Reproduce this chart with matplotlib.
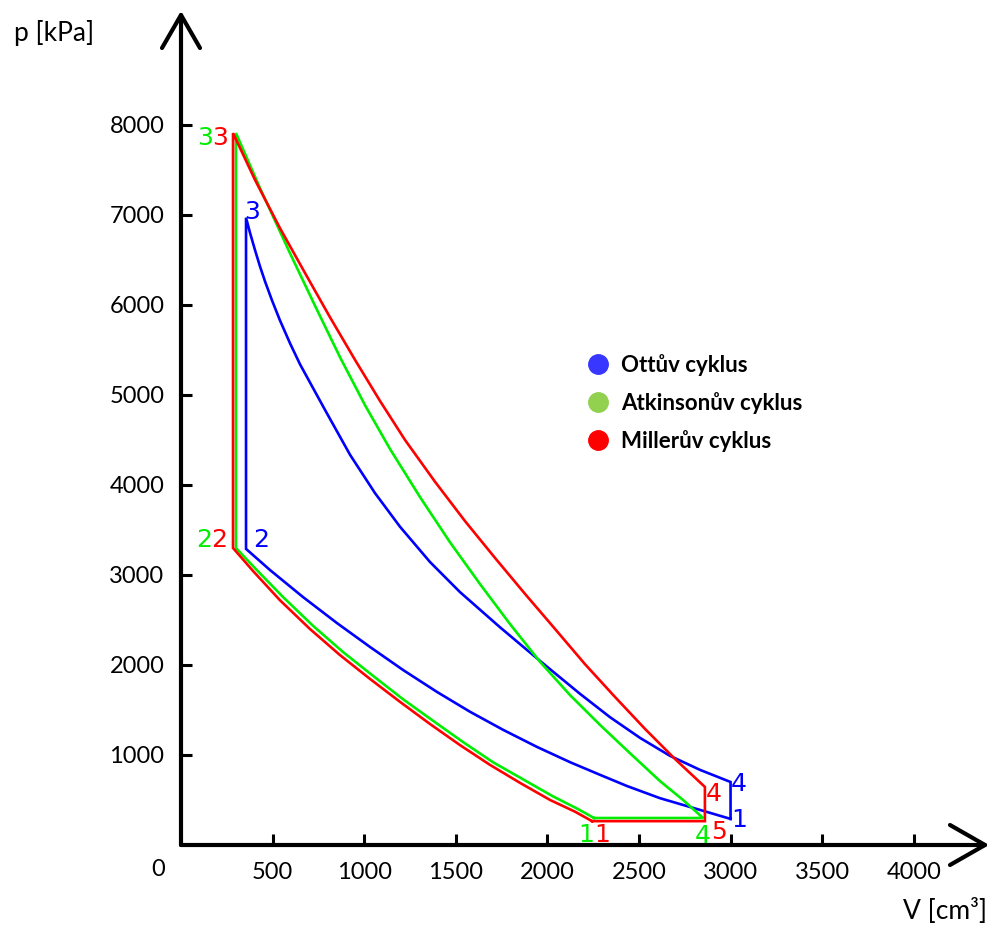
import numpy as np
import matplotlib
matplotlib.use('Agg')
import matplotlib.pyplot as plt
from matplotlib.lines import Line2D

## data (V in cm3, p in kPa)
# Otto cycle: 1 -> 2 compression, 3 -> 4 expansion
otto_comp_V = [3000, 2833, 2615, 2435, 2287, 2124, 1943, 1758, 1578, 1398, 1212, 1032, 852, 666, 486, 355]
otto_comp_p = [290, 390, 520, 655, 780, 920, 1090, 1280, 1480, 1700, 1945, 2200, 2465, 2755, 3055, 3290]
otto_exp_V = [355, 377, 404, 431, 459, 497, 540, 595, 650, 786, 923, 1059, 1196, 1359, 1523, 1741, 1960,
              2178, 2342, 2506, 2670, 2833, 3000]
otto_exp_p = [6970, 6800, 6610, 6430, 6260, 6050, 5830, 5575, 5340, 4835, 4335, 3910, 3535, 3145, 2810,
              2420, 2045, 1680, 1420, 1190, 990, 835, 700]

# Atkinson cycle
atk_comp_V = [2255, 2162, 2031, 1867, 1703, 1539, 1376, 1212, 1048, 884, 721, 557, 409, 300]
atk_comp_p = [300, 405, 540, 730, 920, 1145, 1380, 1620, 1880, 2145, 2435, 2755, 3065, 3300]
atk_exp_V = [300, 431, 595, 732, 868, 1005, 1141, 1305, 1468, 1632, 1796, 1960, 2124, 2287, 2451, 2615, 2741, 2850]
atk_exp_p = [7910, 7300, 6575, 5990, 5420, 4885, 4400, 3865, 3365, 2900, 2455, 2035, 1665, 1335, 1020, 710, 500, 300]

# Miller cycle (4 -> 5 exhaust step)
mil_comp_V = [2244, 2151, 2015, 1851, 1687, 1523, 1359, 1196, 1032, 868, 704, 540, 393, 284]
mil_comp_p = [265, 370, 500, 690, 890, 1110, 1345, 1590, 1845, 2110, 2400, 2720, 3045, 3300]
mil_exp_V = [284, 404, 540, 677, 813, 950, 1086, 1223, 1387, 1550, 1714, 1878, 2042, 2205, 2369, 2533, 2697, 2860]
mil_exp_p = [7910, 7390, 6855, 6355, 5865, 5390, 4935, 4500, 4035, 3600, 3190, 2790, 2400, 2010, 1645, 1290, 955, 645]
mil_V5 = 2860
mil_p5 = 265

names = ['Ottův cyklus', 'Atkinsonův cyklus', 'Millerův cyklus']
xticks = [500, 1000, 1500, 2000, 2500, 3000, 3500, 4000]
yticks = [1000, 2000, 3000, 4000, 5000, 6000, 7000, 8000]

c_blue = '#0000ff'
c_green = '#00ee00'
c_red = '#ff0000'

plt.rc('figure', figsize=(9.95, 9.25))
plt.rc('figure', dpi=100)
fig = plt.figure()
ax = fig.add_axes([181/995, 80/925, 804/995, 830/925])
ax.set_xlim(0, 4389)
ax.set_ylim(0, 9222)
for s in ax.spines.values():
    s.set_visible(False)

def cycle(cv, cp, ev, ep, extra_v=[], extra_p=[]):
    v = list(cv) + list(ev) + list(extra_v) + [cv[0]]
    p = list(cp) + list(ep) + list(extra_p) + [cp[0]]
    return v, p

v, p = cycle(otto_comp_V, otto_comp_p, otto_exp_V, otto_exp_p)
ax.plot(v, p, color=c_blue, lw=1.9, solid_joinstyle='miter', clip_on=False)
v, p = cycle(atk_comp_V, atk_comp_p, atk_exp_V, atk_exp_p)
ax.plot(v, p, color=c_green, lw=1.9, solid_joinstyle='miter', clip_on=False)
v, p = cycle(mil_comp_V, mil_comp_p, mil_exp_V, mil_exp_p, [mil_V5], [mil_p5])
ax.plot(v, p, color=c_red, lw=1.9, solid_joinstyle='miter', clip_on=False)

# point numbers
lab_font = ['Liberation Sans Narrow', 'DejaVu Sans']
labels = [('3', 130, 7888, c_green), ('3', 215, 7888, c_red), ('3', 388, 7066, c_blue),
          ('2', 128, 3422, c_green), ('2', 208, 3422, c_red), ('2', 437, 3422, c_blue),
          ('1', 2210, 144, c_green), ('1', 2300, 144, c_red), ('4', 2850, 133, c_green),
          ('5', 2935, 167, c_red), ('4', 2910, 589, c_red), ('4', 3046, 700, c_blue),
          ('1', 3046, 300, c_blue)]
for t, x, y, c in labels:
    ax.text(x, y, t, color=c, fontsize=18, family=lab_font, ha='center', va='center_baseline')

# axes with open arrow heads
ak = dict(transform=ax.transAxes, clip_on=False, color='black', lw=3, solid_capstyle='round')
ax.plot([0, 1], [0, 0], **ak)
ax.plot([0, 0], [0, 1], **ak)
ax.plot([1 - 35/804, 1, 1 - 35/804], [20/830, 0, -20/830], **ak)
ax.plot([-19/804, 0, 19/804], [1 - 33/830, 1, 1 - 33/830], **ak)

ax.set_xticks(xticks)
ax.set_yticks(yticks)
ax.tick_params(direction='in', length=8, width=2.2, labelsize=17, pad=12)
for lab in ax.get_xticklabels() + ax.get_yticklabels():
    lab.set_family('Lato')

fig.text(158/995, 1 - 870/925, '0', fontsize=17, family='Lato', ha='center', va='center')
fig.text(54/995, 1 - 33/925, 'p [kPa]', fontsize=19, family='Lato', ha='center', va='center')
fig.text(945/995, 1 - 911/925, 'V [cm³]', fontsize=19, family='Lato', ha='center', va='center')

handles = [Line2D([], [], ls='none', marker='o', ms=14, color=c) for c in ['#3737ff', '#92d050', '#ff0000']]
leg = ax.legend(handles, names, loc='center left', bbox_to_anchor=(587/995, 1 - 403/925),
                bbox_transform=fig.transFigure, frameon=False, handlelength=1.0,
                handletextpad=0.55, labelspacing=0.72, borderpad=0, borderaxespad=0,
                prop=dict(family='Lato', weight='bold', size=16))

plt.savefig('out.png', format='png')
